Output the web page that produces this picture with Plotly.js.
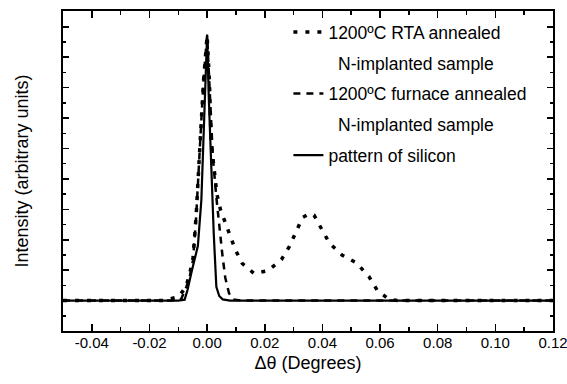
<!DOCTYPE html>
<html>
<head>
<meta charset="utf-8">
<script src="https://cdn.plot.ly/plotly-3.0.1.min.js"></script>
<style>html,body{margin:0;padding:0;background:#fff;}#chart{width:567px;height:384px;}</style>
</head>
<body>
<div id="chart"></div>
<script>
// Series names
const nameRTA = '1200ºC RTA annealed';
const nameRTA2 = '\u00a0\u00a0N-implanted sample';
const nameFurnace = '1200ºC furnace annealed';
const nameFurnace2 = '\u00a0\u00a0N-implanted sample';
const nameSilicon = 'pattern of silicon';

// X tick labels
const xTickVals = [-0.04, -0.02, 0, 0.02, 0.04, 0.06, 0.08, 0.10, 0.12];
const xTickText = ['-0.04', '-0.02', '0.00', '0.02', '0.04', '0.06', '0.08', '0.10', '0.12'];

// RTA annealed (dotted)
const rtaX = [-0.05, -0.015, -0.0101, -0.0085, -0.0072, -0.006, -0.0049, -0.0038, -0.0026, -0.0012, 0, 0.0008, 0.0014, 0.0023, 0.0034, 0.0046, 0.0061, 0.0077, 0.0098, 0.0122, 0.0163, 0.0211, 0.0258, 0.0286, 0.0307, 0.0331, 0.0355, 0.0371, 0.0399, 0.0425, 0.0469, 0.0518, 0.0562, 0.059, 0.0631, 0.066, 0.12];
const rtaY = [0, 0, 0.12, 0.3, 0.5, 0.9, 1.4, 2.8, 4.9, 7.3, 8.7, 7.2, 5.2, 4.5, 3.5, 3.0, 2.62, 2.15, 1.67, 1.22, 0.89, 0.98, 1.35, 1.79, 2.26, 2.73, 2.86, 2.81, 2.32, 1.88, 1.49, 1.24, 0.78, 0.34, 0.04, 0, 0];

// Furnace annealed (dashed)
const furX = [-0.05, -0.012, -0.009, -0.0072, -0.006, -0.0049, -0.0038, -0.0026, -0.0012, 0, 0.0008, 0.002, 0.0032, 0.0043, 0.0053, 0.0063, 0.0076, 0.009, 0.012, 0.12];
const furY = [0, 0, 0.05, 0.45, 0.8, 1.33, 2.75, 4.94, 7.35, 8.7, 7.0, 4.7, 3.4, 2.3, 1.5, 0.75, 0.24, 0.04, 0, 0];

// Silicon pattern (solid)
const siX = [-0.05, -0.02, -0.01, -0.0078, -0.0068, -0.0055, -0.0045, -0.0032, -0.002, -0.0012, -0.0003, 0, 0.0006, 0.0014, 0.0023, 0.0032, 0.0042, 0.0054, 0.008, 0.12];
const siY = [0, 0, 0, 0.03, 0.35, 0.9, 1.3, 1.8, 3.3, 5.5, 8.6, 8.75, 6.6, 4.4, 2.2, 0.45, 0.15, 0.04, 0, 0];

const FONT = 'Liberation Sans, Arial, sans-serif';

const traces = [
  {x: rtaX, y: rtaY, mode: 'lines', name: nameRTA, legendgroup: 'a',
   line: {color: '#000', width: 3.5, dash: '4px,8px'}},
  {x: [null], y: [null], mode: 'lines', name: nameRTA2, legendgroup: 'b',
   line: {color: 'rgba(0,0,0,0)', width: 0}, hoverinfo: 'skip'},
  {x: furX, y: furY, mode: 'lines', name: nameFurnace, legendgroup: 'c',
   line: {color: '#000', width: 2.5, dash: '7px,6px'}},
  {x: [null], y: [null], mode: 'lines', name: nameFurnace2, legendgroup: 'd',
   line: {color: 'rgba(0,0,0,0)', width: 0}, hoverinfo: 'skip'},
  {x: siX, y: siY, mode: 'lines', name: nameSilicon, legendgroup: 'e',
   line: {color: '#000', width: 2.2}}
];

const layout = {
  width: 567, height: 384,
  margin: {l: 63, r: 14, t: 11, b: 53},
  paper_bgcolor: '#fff', plot_bgcolor: '#fff',
  font: {family: FONT, color: '#000'},
  showlegend: true,
  legend: {x: 0.46, y: 0.99, xanchor: 'left', yanchor: 'top',
    bgcolor: 'rgba(0,0,0,0)', font: {family: FONT, size: 17.5, color: '#000'},
    tracegroupgap: 5, itemwidth: 30},
  xaxis: {
    range: [-0.05, 0.12], tickmode: 'array', tickvals: xTickVals, ticktext: xTickText,
    ticks: 'inside', ticklen: 7, tickwidth: 1.5, tickcolor: '#000',
    minor: {tickmode: 'linear', tick0: 0, dtick: 0.01, ticks: 'inside', ticklen: 4, tickwidth: 1.5, tickcolor: '#000'},
    showline: true, linecolor: '#000', linewidth: 2, mirror: 'ticks',
    showgrid: false, zeroline: false, ticklabelstandoff: -3, ticklabeloverflow: 'allow',
    tickfont: {family: FONT, size: 15, color: '#000'},
    title: {text: 'Δθ (Degrees)', font: {family: FONT, size: 18, color: '#000'}, standoff: 6}
  },
  yaxis: {
    range: [-1, 9.52], tick0: 0, dtick: 1,
    ticks: 'inside', ticklen: 6, tickwidth: 1.5, tickcolor: '#000',
    minor: {dtick: 0.5, ticks: 'inside', ticklen: 3, tickwidth: 1.5, tickcolor: '#000'},
    showticklabels: false,
    showline: true, linecolor: '#000', linewidth: 2, mirror: 'ticks',
    showgrid: false, zeroline: false,
    title: {text: 'Intensity (arbitrary units)', font: {family: FONT, size: 18, color: '#000'}, standoff: 28}
  }
};

Plotly.newPlot('chart', traces, layout, {staticPlot: true, displayModeBar: false});
</script>
</body>
</html>
